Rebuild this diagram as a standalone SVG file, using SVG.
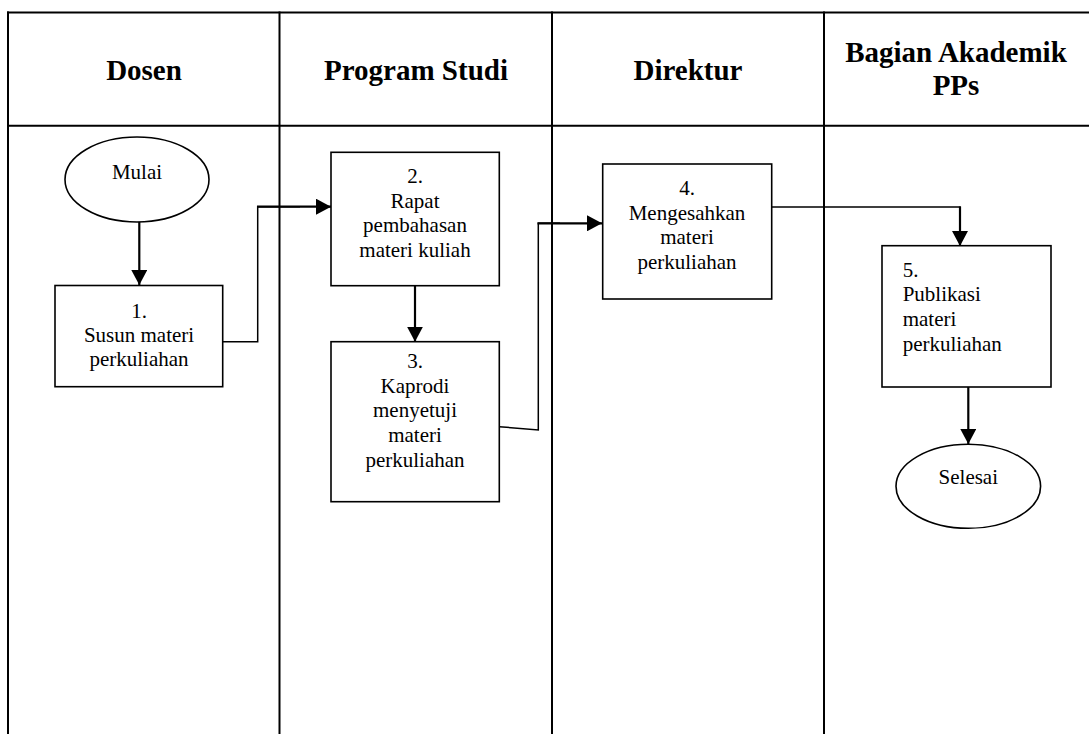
<svg xmlns="http://www.w3.org/2000/svg" width="1089" height="734" viewBox="0 0 1089 734">
  <style>
    .lane { stroke: #000; stroke-width: 2; fill: none; }
    .box { fill: #fff; stroke: #000; stroke-width: 1.6; }
    .head { font-family: "Liberation Serif", "Times New Roman", serif; font-size: 29px; font-weight: bold; fill: #000; text-anchor: middle; }
    .txt { font-family: "Liberation Serif", "Times New Roman", serif; font-size: 21px; fill: #000; text-anchor: middle; }
    .txtl { font-family: "Liberation Serif", "Times New Roman", serif; font-size: 21px; fill: #000; }
    .flow { fill: none; stroke: #000; stroke-width: 1.5; }
    .flowb { fill: none; stroke: #000; stroke-width: 2.2; }
  </style>
  <defs>
    <marker id="arrow" markerUnits="userSpaceOnUse" markerWidth="16" markerHeight="16" refX="15" refY="8" orient="auto">
      <path d="M0,0 L15,8 L0,16 Z" fill="#000"/>
    </marker>
  </defs>

  <rect width="1089" height="734" fill="#fff"/>

  <!-- swimlane table -->
  <g id="lanes">
    <line class="lane" x1="7" y1="12.5" x2="1089" y2="12.5"/>
    <line class="lane" x1="7" y1="125.7" x2="1089" y2="125.7"/>
    <line class="lane" x1="8" y1="11.5" x2="8" y2="734"/>
    <line class="lane" x1="279.5" y1="11.5" x2="279.5" y2="734"/>
    <line class="lane" x1="552" y1="11.5" x2="552" y2="734"/>
    <line class="lane" x1="824" y1="11.5" x2="824" y2="734"/>
    <text class="head" x="144" y="79.5">Dosen</text>
    <text class="head" x="416" y="79.5">Program Studi</text>
    <text class="head" x="688" y="79.5">Direktur</text>
    <text class="head" x="956" y="62">Bagian Akademik</text>
    <text class="head" x="956" y="95">PPs</text>
  </g>

  <!-- connectors -->
  <g id="connectors">
    <line class="flowb" x1="139.3" y1="221.7" x2="139.3" y2="285" marker-end="url(#arrow)"/>
    <polyline class="flow" points="222.7,341.7 257.7,341.7 257.7,206.7 300,206.7"/>
    <line class="flowb" x1="257" y1="206.7" x2="331" y2="206.7" marker-end="url(#arrow)"/>
    <line class="flowb" x1="415" y1="285.7" x2="415" y2="341.7" marker-end="url(#arrow)"/>
    <polyline class="flow" points="499.3,426.7 538.3,430 538.3,223.3 560,223.3"/>
    <line class="flowb" x1="537.5" y1="223.3" x2="602" y2="223.3" marker-end="url(#arrow)"/>
    <polyline class="flow" points="771.7,207 960,207 960,225"/>
    <line class="flowb" x1="960" y1="206.5" x2="960" y2="246" marker-end="url(#arrow)"/>
    <line class="flowb" x1="968.3" y1="387" x2="968.3" y2="444" marker-end="url(#arrow)"/>
  </g>

  <g id="mulai">
    <ellipse class="box" cx="137" cy="179.5" rx="72" ry="42.5"/>
    <text class="txt" x="137" y="179.3">Mulai</text>
  </g>

  <g id="step1">
    <rect class="box" x="55" y="285.5" width="167.7" height="101.2"/>
    <text class="txt" x="139" y="318.3">1.</text>
    <text class="txt" x="139" y="342">Susun materi</text>
    <text class="txt" x="139" y="365.5">perkuliahan</text>
  </g>

  <g id="step2">
    <rect class="box" x="331" y="152.3" width="168.3" height="133.4"/>
    <text class="txt" x="415" y="183.3">2.</text>
    <text class="txt" x="415" y="208.3">Rapat</text>
    <text class="txt" x="415" y="231.7">pembahasan</text>
    <text class="txt" x="415" y="256.7">materi kuliah</text>
  </g>

  <g id="step3">
    <rect class="box" x="331" y="341.7" width="168.3" height="160"/>
    <text class="txt" x="415" y="367.7">3.</text>
    <text class="txt" x="415" y="393.3">Kaprodi</text>
    <text class="txt" x="415" y="416.7">menyetuji</text>
    <text class="txt" x="415" y="441.7">materi</text>
    <text class="txt" x="415" y="466.7">perkuliahan</text>
  </g>

  <g id="step4">
    <rect class="box" x="602.7" y="164" width="169" height="135"/>
    <text class="txt" x="687" y="195">4.</text>
    <text class="txt" x="687" y="220">Mengesahkan</text>
    <text class="txt" x="687" y="244.3">materi</text>
    <text class="txt" x="687" y="269">perkuliahan</text>
  </g>

  <g id="step5">
    <rect class="box" x="882" y="245.7" width="169" height="141.3"/>
    <text class="txtl" x="902.7" y="276.7">5.</text>
    <text class="txtl" x="902.7" y="300.7">Publikasi</text>
    <text class="txtl" x="902.7" y="326">materi</text>
    <text class="txtl" x="902.7" y="351">perkuliahan</text>
  </g>

  <g id="selesai">
    <ellipse class="box" cx="968.3" cy="486.3" rx="72.3" ry="42"/>
    <text class="txt" x="968.3" y="484.3">Selesai</text>
  </g>
</svg>
